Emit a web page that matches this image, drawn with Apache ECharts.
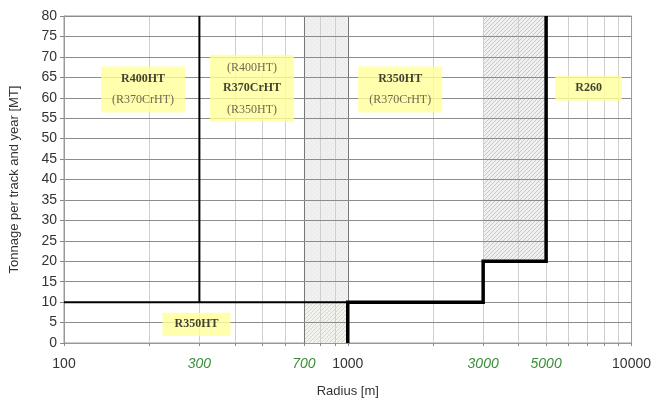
<!DOCTYPE html>
<html>
<head>
<meta charset="utf-8">
<style>
  html, body { margin: 0; padding: 0; background: #fff; }
  #chart { width: 654px; height: 403px; }
</style>
<script src="https://cdn.jsdelivr.net/npm/echarts@6/dist/echarts.min.js"></script>
</head>
<body>
<div id="chart"></div>
<script>
// Radius tick / gridline values (log axis)
const minorRadii = [200, 300, 400, 500, 600, 700, 800, 900, 2000, 3000, 4000, 5000, 6000, 7000, 8000, 9000];
const tickRadii = [100, 200, 300, 400, 500, 600, 700, 800, 900, 1000, 2000, 3000, 4000, 5000, 6000, 7000, 8000, 9000, 10000];
const labelRadii = [100, 300, 700, 1000, 3000, 5000, 10000];
const greenRadii = [300, 700, 3000, 5000];
const zoneEdges = [700, 1000];

// Boundary lines [radius, tonnage]
const thinLower = [[100, 10], [1000, 10]];
const thin300 = [[300, 10], [300, 80]];
const thickStep = [[1000, 0], [1000, 10], [3000, 10], [3000, 20], [5000, 20], [5000, 80]];

// Transition zones [[r0, t0], [r1, t1]]
const dottedZone = [[700, 10], [1000, 80]];
const lowHatchZone = [[700, 0], [1000, 10]];
const highHatchZone = [[3000, 20], [5000, 80]];

// Grade labels: [radius, tonnage, lines]
const gradeLabels = [
  [190, 62, [['b', 'R400HT'], ['n', '(R370CrHT)']]],
  [460, 62.3, [['n', '(R400HT)'], ['b', 'R370CrHT'], ['n', '(R350HT)']]],
  [1530, 62, [['b', 'R350HT'], ['n', '(R370CrHT)']]],
  [7060, 62.3, [['b', 'R260']]],
  [293, 4.6, [['b', 'R350HT']]]
];
const labelPads = [[2, 11], [2, 13], [2, 11], [2, 20], [1, 12]];

const makePattern = (draw, size) => {
  const c = document.createElement('canvas');
  c.width = size;
  c.height = size;
  const ctx = c.getContext('2d');
  draw(ctx, size);
  return { image: c, repeat: 'repeat' };
};

const dotted = makePattern((ctx, s) => {
  ctx.fillStyle = '#ededed';
  ctx.fillRect(0, 0, s, s);
  ctx.fillStyle = '#fafafa';
  ctx.fillRect(0, 0, 1, 1);
  ctx.fillRect(2, 2, 1, 1);
}, 4);

const hatch = (bg, fg) => makePattern((ctx, s) => {
  ctx.fillStyle = bg;
  ctx.fillRect(0, 0, s, s);
  ctx.strokeStyle = fg;
  ctx.lineWidth = 1;
  ctx.beginPath();
  ctx.moveTo(-1, s + 1);
  ctx.lineTo(s + 1, -1);
  ctx.moveTo(-1, 1);
  ctx.lineTo(1, -1);
  ctx.moveTo(s - 1, s + 1);
  ctx.lineTo(s + 1, s - 1);
  ctx.stroke();
}, 4);

const chart = echarts.init(document.getElementById('chart'));

const axisFont = 'Liberation Sans, Arial, sans-serif';
const serif = 'Liberation Serif, Times New Roman, serif';

chart.setOption({
  animation: false,
  grid: {
    left: 63, right: 22, top: 16, bottom: 57,
    show: true, borderColor: '#999', borderWidth: 1
  },
  xAxis: {
    type: 'log',
    logBase: 10,
    min: 100,
    max: 10000,
    z: 3,
    name: 'Radius [m]',
    nameLocation: 'middle',
    nameGap: 42,
    nameTextStyle: { fontFamily: axisFont, fontSize: 13, color: '#333' },
    axisLine: { lineStyle: { color: '#999' } },
    axisTick: { show: true, length: 3, customValues: tickRadii, lineStyle: { color: '#888' } },
    axisLabel: {
      customValues: labelRadii,
      margin: 14,
      formatter: v => (greenRadii.includes(Math.round(v)) ? '{g|' + Math.round(v) + '}' : '{k|' + Math.round(v) + '}'),
      rich: {
        k: { fontFamily: axisFont, fontSize: 14, color: '#333' },
        g: { fontFamily: axisFont, fontSize: 14, color: '#3a8f3a', fontStyle: 'italic' }
      }
    },
    splitLine: { show: false },
    minorSplitLine: { show: false }
  },
  yAxis: {
    type: 'value',
    min: 0,
    max: 80,
    interval: 5,
    z: 3,
    name: 'Tonnage per track and year [MT]',
    nameLocation: 'middle',
    nameGap: 43,
    nameTextStyle: { fontFamily: axisFont, fontSize: 13, color: '#333' },
    axisLine: { show: true, lineStyle: { color: '#999' } },
    axisTick: { show: true, length: 4, lineStyle: { color: '#888' } },
    axisLabel: { fontFamily: axisFont, fontSize: 14, color: '#333', margin: 7 },
    splitLine: { lineStyle: { color: '#8c8c8c', width: 1.2 } }
  },
  series: [
    {
      type: 'line',
      data: [],
      silent: true,
      z: 0,
      markArea: {
        silent: true,
        z: 0,
        data: [
          [{ coord: dottedZone[0], itemStyle: { color: dotted } }, { coord: dottedZone[1] }],
          [{ coord: lowHatchZone[0], itemStyle: { color: hatch('#f3f3ee', '#d6d6cc') } }, { coord: lowHatchZone[1] }],
          [{ coord: highHatchZone[0], itemStyle: { color: hatch('#f0f0f0', '#c8c8c8') } }, { coord: highHatchZone[1] }]
        ]
      }
    },
    {
      type: 'line',
      data: [],
      silent: true,
      z: 1,
      markLine: {
        silent: true,
        z: 1,
        symbol: 'none',
        label: { show: false },
        lineStyle: { color: '#cfcfcf', width: 1, type: 'solid' },
        data: minorRadii.map(r => ({ xAxis: r }))
      }
    },
    {
      type: 'line',
      data: [],
      silent: true,
      z: 2,
      markLine: {
        silent: true,
        z: 2,
        symbol: 'none',
        label: { show: false },
        lineStyle: { color: '#777', width: 1, type: 'solid' },
        data: zoneEdges.map(r => ({ xAxis: r }))
      }
    },
    {
      type: 'line', data: thinLower, symbol: 'none', silent: true, z: 5,
      lineStyle: { color: '#000', width: 2 }
    },
    {
      type: 'line', data: thin300, symbol: 'none', silent: true, z: 5,
      lineStyle: { color: '#000', width: 2 }
    },
    {
      type: 'line', data: thickStep, symbol: 'none', silent: true, z: 6,
      lineStyle: { color: '#000', width: 3.5, join: 'miter' }
    },
    {
      type: 'scatter',
      symbolSize: 0.1,
      silent: true,
      z: 8,
      itemStyle: { color: 'rgba(0,0,0,0)' },
      data: gradeLabels.map((g, i) => ({
        value: [g[0], g[1]],
        label: {
          show: true,
          position: 'inside',
          backgroundColor: '#ffff99',
          padding: labelPads[i],
          formatter: g[2].map(l => '{' + l[0] + '|' + l[1] + '}').join('\n'),
          rich: {
            b: { fontFamily: serif, fontSize: 12, fontWeight: 'bold', color: '#111', lineHeight: 21, align: 'center' },
            n: { fontFamily: serif, fontSize: 12, color: '#4d4438', lineHeight: 21, align: 'center' }
          }
        }
      }))
    }
  ]
});
</script>
</body>
</html>
